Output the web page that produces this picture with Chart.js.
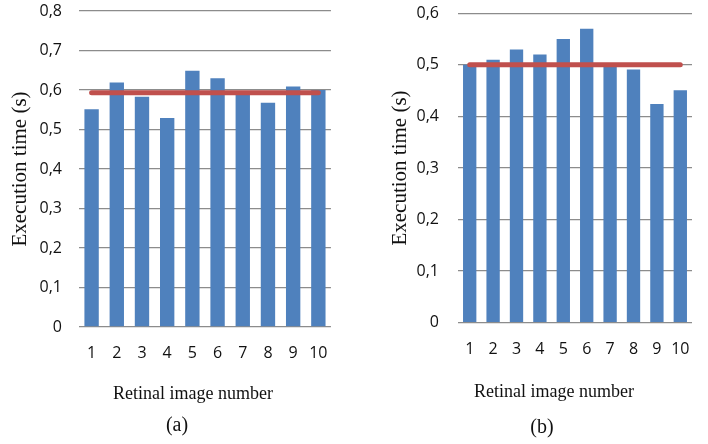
<!DOCTYPE html>
<html>
<head>
<meta charset="utf-8">
<script src="https://cdn.jsdelivr.net/npm/chart.js@4.4.1/dist/chart.umd.min.js"></script>
<style>
  html, body { margin: 0; padding: 0; background: #fff; }
  #wrap { position: relative; width: 708px; height: 444px; overflow: hidden; }
  .box { position: absolute; top: 0; height: 444px; }
  #boxA { left: 0; width: 345px; }
  #boxB { left: 380px; width: 328px; }
</style>
</head>
<body>
<div id="wrap">
  <div class="box" id="boxA"><canvas id="chartA"></canvas></div>
  <div class="box" id="boxB"><canvas id="chartB"></canvas></div>
</div>
<script>
// Données
const images = ['1', '2', '3', '4', '5', '6', '7', '8', '9', '10'];

const timesA = [0.551, 0.619, 0.583, 0.529, 0.649, 0.63, 0.59, 0.568, 0.609, 0.6];
const meanA = [0.593, 0.593, 0.593, 0.593, 0.593, 0.593, 0.593, 0.593, 0.593, 0.593];
const tickLabelsA = ['0', '0,1', '0,2', '0,3', '0,4', '0,5', '0,6', '0,7', '0,8'];

const timesB = [0.5, 0.51, 0.53, 0.52, 0.55, 0.57, 0.496, 0.491, 0.424, 0.451];
const meanB = [0.5, 0.5, 0.5, 0.5, 0.5, 0.5, 0.5, 0.5, 0.5, 0.5];
const tickLabelsB = ['0', '0,1', '0,2', '0,3', '0,4', '0,5', '0,6'];

const BAR_BLUE = '#4f81bd';
const MEAN_RED = '#c0504d';
const GRID = '#8c8c8c';
const SANS = '"Open Sans", "Noto Sans", sans-serif';
const SERIF = '"Liberation Serif", "DejaVu Serif", serif';

// Légende de la figure : titre d'axe X + "(a)" / "(b)"
const captionPlugin = {
  id: 'caption',
  afterDraw(chart, args, opts) {
    const ctx = chart.ctx;
    ctx.save();
    ctx.fillStyle = '#111';
    ctx.textAlign = 'center';
    ctx.textBaseline = 'alphabetic';
    (opts.lines || []).forEach(l => {
      ctx.font = l.font;
      ctx.fillText(l.text, l.x, l.y);
    });
    ctx.restore();
  }
};

function renderPanel(canvasId, times, mean, tickLabels, yMax, o) {
  new Chart(document.getElementById(canvasId), {
    data: {
      labels: images,
      datasets: [
        {
          type: 'line',
          data: mean,
          borderColor: MEAN_RED,
          borderWidth: 5,
          borderCapStyle: 'round',
          pointRadius: 0,
          fill: false,
          order: 0
        },
        {
          type: 'bar',
          data: times,
          backgroundColor: BAR_BLUE,
          barPercentage: 0.57,
          categoryPercentage: 1,
          order: 1
        }
      ]
    },
    options: {
      responsive: true, maintainAspectRatio: false,
      animation: false,
      layout: { padding: o.padding },
      plugins: {
        legend: { display: false },
        tooltip: { enabled: false },
        caption: { lines: o.captions }
      },
      scales: {
        x: {
          grid: { display: false, drawTicks: false },
          border: { display: false },
          ticks: { color: '#111', font: { family: SANS, size: 16 }, padding: o.xPad, maxRotation: 0 }
        },
        y: {
          min: 0, max: yMax,
          // largeur fixe + pas de marge auto au-dessus/dessous (le padding du layout s'en charge)
          afterFit: s => { s.width = o.yWidth; s.paddingTop = 0; s.paddingBottom = 0; },
          grid: { color: GRID, lineWidth: 1.3, drawTicks: false },
          border: { display: false },
          ticks: {
            stepSize: 0.1,
            color: '#111',
            font: { family: SANS, size: 16 },
            padding: o.yPad,
            callback: (v, i) => tickLabels[i]
          },
          title: {
            display: true,
            text: 'Execution time (s)',
            color: '#111',
            font: { family: SERIF, size: 21 },
            padding: { top: o.yTitlePad, bottom: 0 }
          }
        }
      }
    },
    plugins: [captionPlugin]
  });
}

// Chart.js compte 2x le padding des ticks X dans la hauteur de l'axe
renderPanel('chartA', timesA, meanA, tickLabelsA, 0.8, {
  padding: { top: 11, right: 10, bottom: 63.8, left: 0 },
  yWidth: 79, yPad: 17, xPad: 17, yTitlePad: 8,
  captions: [
    { text: 'Retinal image number', x: 193, y: 399, font: '18px ' + SERIF },
    { text: '(a)', x: 177, y: 431, font: '20px ' + SERIF }
  ]
});

renderPanel('chartB', timesB, meanB, tickLabelsB, 0.6, {
  padding: { top: 13.3, right: 16, bottom: 68.1, left: 0 },
  yWidth: 78, yPad: 19, xPad: 17, yTitlePad: 7.5,
  captions: [
    { text: 'Retinal image number', x: 174, y: 397, font: '18px ' + SERIF },
    { text: '(b)', x: 162, y: 433, font: '20px ' + SERIF }
  ]
});
</script>
</body>
</html>
